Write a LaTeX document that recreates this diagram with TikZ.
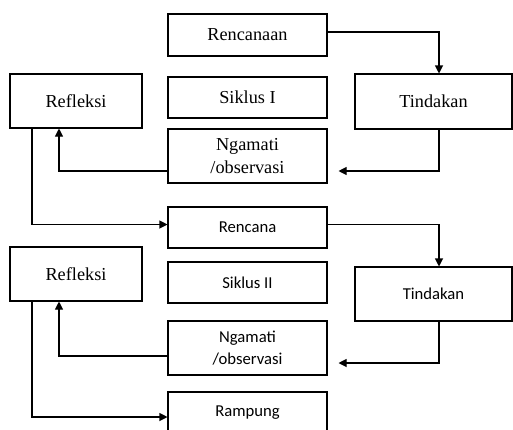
\documentclass[tikz,border=0pt]{standalone}
\usepackage{fontspec}
\setmainfont{Liberation Serif}
\newfontfamily\calibri{Carlito}
\usetikzlibrary{positioning,calc,arrows.meta}
\tikzset{
  box/.style  = {draw=black, line width=0.8pt, inner sep=0pt, align=center, font=\fontsize{13.7}{17}\selectfont},
  boxc/.style = {box, font=\calibri\fontsize{12.5}{17}\selectfont},
  arr/.style  = {-{Triangle[length=6pt,width=6pt]}, draw=black, line width=0.8pt},
}

\begin{document}
\begin{tikzpicture}[x=0.75pt,y=-0.75pt]
  \useasboundingbox (0,0) rectangle (513,429);

  % siklus I
  \node[box, minimum width=119.25pt, minimum height=31.5pt] (ren1) at (247.5,35) {Rencanaan};
  \node[box, minimum width=119.25pt, minimum height=30.75pt] (sik1) at (247.5,97.5) {Siklus I};
  \node[box, minimum width=119.25pt, minimum height=40.5pt] (ngm1) at (247.5,156) {Ngamati\\/observasi};
  \node[box, minimum width=99pt, minimum height=40.5pt] (ref1) at (76,101) {Refleksi};
  \node[box, minimum width=117.75pt, minimum height=41.25pt] (tin1) at (433.5,101.5) {Tindakan};

  \draw[arr] ($(ren1.east)+(0,-3)$) -| ($(tin1.north)+(5.5,0)$);
  \draw[arr] ($(tin1.south)+(5.5,0)$) |- ($(ngm1.east)+(11,15)$);
  \draw[arr] ($(ngm1.west)+(0,15)$) -| ($(ref1.south)+(-17,0)$);

  % siklus II
  \node[boxc, minimum width=119.25pt, minimum height=30.75pt] (ren2) at (247.5,227.5) {Rencana};
  \node[boxc, minimum width=119.25pt, minimum height=30.75pt] (sik2) at (247.5,282.5) {Siklus II};
  \node[boxc, minimum width=119.25pt, minimum height=40.5pt] (ngm2) at (247.5,348) {Ngamati\\/observasi};
  \node[box, minimum width=99pt, minimum height=40.5pt] (ref2) at (76,274) {Refleksi};
  \node[boxc, minimum width=117.75pt, minimum height=40.5pt] (tin2) at (433.5,294) {Tindakan};
  \node[boxc, minimum width=119.25pt, minimum height=30.75pt] (ram) at (247.5,412.5) {Rampung};

  \draw[arr] ($(ref1.south)+(-44,0)$) |- ($(ren2.west)+(0,-3)$);
  \draw[arr] ($(ren2.east)+(0,-3)$) -| ($(tin2.north)+(5.5,0)$);
  \draw[arr] ($(tin2.south)+(5.5,0)$) |- ($(ngm2.east)+(11,15)$);
  \draw[arr] ($(ngm2.west)+(0,8)$) -| ($(ref2.south)+(-17,0)$);
  \draw[arr] ($(ref2.south)+(-44,0)$) |- ($(ram.west)+(0,4.5)$);
\end{tikzpicture}
\end{document}
